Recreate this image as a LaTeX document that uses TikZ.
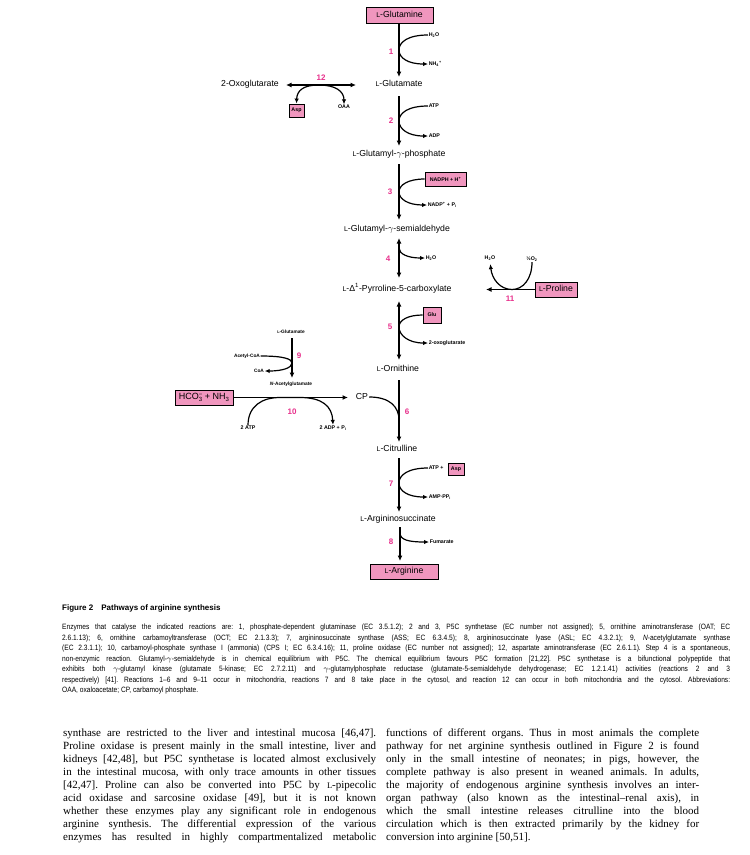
\documentclass[tikz,border=0pt]{standalone}
\usepackage{fontspec}
\usepackage{graphicx}
\setmainfont{Liberation Sans}
\newfontfamily\bodyfont{Liberation Serif}
\newfontfamily\capfont[FakeStretch=0.86]{Liberation Sans}
\usetikzlibrary{arrows.meta}
\definecolor{boxpink}{RGB}{240,150,190}
\definecolor{numpink}{RGB}{232,48,140}
\newcommand{\sL}{\scalebox{0.8}{L}}
\tikzset{
 met/.style={font=\fontsize{8.7}{10}\selectfont, inner sep=1pt, text height=6.3pt, text depth=1.8pt},
 sml/.style={font=\bfseries\fontsize{5.3}{6}\selectfont, inner sep=0.6pt},
 tiny/.style={font=\bfseries\fontsize{4.8}{5.5}\selectfont, inner sep=0.6pt},
 num/.style={font=\bfseries\fontsize{8}{9}\selectfont, text=numpink, inner sep=0pt},
 pbox/.style={draw=black, line width=0.9pt, fill=boxpink},
 arr/.style={line width=1.3pt, -{Latex[length=5.5pt,width=5pt]}},
 darr/.style={line width=1.3pt, {Latex[length=5.5pt,width=5pt]}-{Latex[length=5.5pt,width=5pt]}},
 carr/.style={line width=1.2pt, -{Latex[length=5pt,width=4.5pt]}},
}
\begin{document}
\begin{tikzpicture}[x=1pt,y=-1pt]
\useasboundingbox[fill=white] (0,0) rectangle (750,855);
% ---------- main column ----------
\node[pbox, met, minimum width=67pt, minimum height=16pt] (gln) at (399.5,15) {\sL-Glutamine};
\node[met] (glu) at (399,84) {\sL-Glutamate};
\node[met] (gp) at (399,154) {\sL-Glutamyl-$\gamma$-phosphate};
\node[met] (gsa) at (397,229) {\sL-Glutamyl-$\gamma$-semialdehyde};
\node[met] (p5c) at (397,289) {\sL-Δ\textsuperscript{1}-Pyrroline-5-carboxylate};
\node[met] (orn) at (398,369) {\sL-Ornithine};
\node[met] (cit) at (397,449) {\sL-Citrulline};
\node[met] (args) at (398,519) {\sL-Argininosuccinate};
\node[pbox, met, minimum width=68pt, minimum height=15pt] (arg) at (404,571.5) {\sL-Arginine};

% step 1
\draw[arr] (gln.south -| 399,0) -- (399,77);
\node[sml, anchor=west] (h2o1) at (428,35) {H\textsubscript{2}O};
\node[sml, anchor=west] (nh4) at (428,64) {NH\textsubscript{4}\textsuperscript{+}};
\draw[carr] (h2o1.west) .. controls (408,35) and (399,42) .. (399,50) .. controls (399,58) and (408,64) .. (nh4.west);
\node[num] (n1) at (391,52) {1};

% step 12
\node[met] (oxo) at (250,84) {2-Oxoglutarate};
\coordinate (a12) at (286,85);
\coordinate (b12) at (356,85);
\draw[darr] (a12) -- (b12);
\node[num] (n12) at (321,78) {12};
\node[pbox, sml, minimum width=15pt, minimum height=13pt, inner sep=0pt] (asp1) at (296.5,110.5) {Asp};
\node[sml] (oaa) at (344,107) {OAA};
\coordinate (j12) at (319,85);
\draw[carr] (j12) .. controls (304,85) and (297,90) .. (asp1.north);
\draw[carr] (j12) .. controls (335,85) and (344,91) .. (oaa.north);

% step 2
\draw[arr] (399,96) -- (399,146);
\node[sml, anchor=west] (atp2) at (428,106) {ATP};
\node[sml, anchor=west] (adp2) at (428,136) {ADP};
\draw[carr] (atp2.west) .. controls (408,106) and (399,113) .. (399,121) .. controls (399,129) and (408,136) .. (adp2.west);
\node[num] (n2) at (391,121) {2};

% step 3
\draw[arr] (399,164) -- (399,220);
\node[pbox, sml, minimum width=41pt, minimum height=14pt, inner sep=0pt] (nadph) at (445.5,179) {NADPH + H\textsuperscript{+}};
\node[sml, anchor=west] (nadpp) at (427,205) {NADP\textsuperscript{+} + P\textsubscript{i}};
\draw[carr] (nadph.west) .. controls (408,179) and (399,185) .. (399,192) .. controls (399,199) and (408,205) .. (nadpp.west);
\node[num] (n3) at (390,192) {3};

% step 4
\draw[darr] (399,238) -- (399,278);
\node[sml, anchor=west] (h2o4) at (425,258) {H\textsubscript{2}O};
\draw[carr] (399,248) .. controls (399,254) and (408,258) .. (h2o4.west);
\node[num] (n4) at (388,259) {4};

% step 11
\node[pbox, met, minimum width=42pt, minimum height=15pt] (pro) at (556,289.5) {\sL-Proline};
\coordinate (t11) at (486,289.5);
\draw[arr] (pro.west) -- (t11);
\node[sml] (h2o11) at (490,258) {H\textsubscript{2}O};
\node[sml] (o2) at (532,259) {½O\textsubscript{2}};
\draw[carr, shorten >=3pt] (o2.south) .. controls (532,279) and (523,289.5) .. (512,289.5) .. controls (500,289.5) and (492,279) .. (h2o11.south);
\node[num] (n11) at (510,299) {11};

% step 5
\draw[darr] (399,301) -- (399,360);
\node[pbox, sml, minimum width=18pt, minimum height=16pt, inner sep=0pt] (glu5) at (432,315) {Glu};
\node[sml, anchor=west] (oxo5) at (428,343) {2-oxoglutarate};
\draw[carr] (glu5.west) .. controls (408,315) and (399,320) .. (399,327) .. controls (399,335) and (408,343) .. (oxo5.west);
\node[num] (n5) at (390,327) {5};

% step 6
\draw[arr] (399,380) -- (399,442);
\node[met] (cp) at (362,397) {CP};
\draw[line width=1.2pt] (cp.east) .. controls (390,397) and (399,407) .. (399,420);
\node[num] (n6) at (407,412) {6};

% step 7
\draw[arr] (399,458) -- (399,512);
\node[sml, anchor=west] (atp7) at (428,468) {ATP +};
\node[pbox, sml, minimum width=16pt, minimum height=12pt, inner sep=0pt] (asp7) at (456,469) {Asp};
\node[sml, anchor=west] (amp) at (428,497) {AMP·PP\textsubscript{i}};
\draw[carr] (atp7.west) .. controls (408,468) and (399,475) .. (399,483) .. controls (399,491) and (408,497) .. (amp.west);
\node[num] (n7) at (391,484) {7};

% step 8
\draw[arr] (400,527) -- (400,561);
\node[sml, anchor=west] (fum) at (429,542) {Fumarate};
\draw[carr] (400,533) .. controls (400,540) and (409,542) .. (fum.west);
\node[num] (n8) at (391,542) {8};

% ---------- left branch ----------
\node[tiny] (glu9) at (291,332) {\sL-Glutamate};
\node[tiny] (nag) at (291,384) {\textit{N}-Acetylglutamate};
\draw[arr, line width=1.2pt] (292,338) -- (292,378);
\node[tiny] (acoa) at (247,356) {Acetyl-CoA};
\node[tiny] (coa) at (259,371) {CoA};
\draw[carr] (acoa.east) .. controls (284,356) and (292,359) .. (292,363) .. controls (292,368) and (282,371) .. (coa.east);
\node[num] (n9) at (299,356) {9};

\node[pbox, font=\fontsize{9}{10}\selectfont, minimum width=58pt, minimum height=15pt, inner sep=0pt] (hco) at (204,397.5) {HCO\rlap{\raisebox{-2pt}{\fontsize{6}{6}\selectfont 3}}\raisebox{3.6pt}{\fontsize{6}{6}\selectfont −} + NH\raisebox{-2pt}{\fontsize{6}{6}\selectfont 3}};
\draw[arr] (hco.east) -- (348,397.5);
\node[sml] (atp10) at (248,428) {2 ATP};
\node[sml] (adp10) at (333,428) {2 ADP + P\textsubscript{i}};
\draw[carr] (atp10.north) .. controls (248,406) and (262,397.5) .. (280,397.5) -- (300,397.5) .. controls (322,397.5) and (332,406) .. (adp10.north);
\node[num] (n10) at (292,412) {10};

% ---------- caption ----------
\node[anchor=base west, inner sep=0, font=\bfseries\fontsize{8}{9}\selectfont] (figh) at (62,610) {Figure 2\hspace{8pt}Pathways of arginine synthesis};
\node[anchor=base west, inner sep=0] (cap) at (62,629.5) {\parbox[t]{668pt}{\capfont\fontsize{7.7}{10.5}\selectfont\parindent=0pt\frenchspacing
Enzymes that catalyse the indicated reactions are: 1, phosphate-dependent glutaminase (EC 3.5.1.2); 2 and 3, P5C synthetase (EC number not assigned); 5, ornithine aminotransferase (OAT; EC\linebreak
2.6.1.13); 6, ornithine carbamoyltransferase (OCT; EC 2.1.3.3); 7, argininosuccinate synthase (ASS; EC 6.3.4.5); 8, argininosuccinate lyase (ASL; EC 4.3.2.1); 9, \textit{N}-acetylglutamate synthase\linebreak
{(EC} 2.3.1.1); 10, carbamoyl-phosphate synthase I (ammonia) (CPS I; EC 6.3.4.16); 11, proline oxidase (EC number not assigned); 12, aspartate aminotransferase (EC 2.6.1.1). Step 4 is a spontaneous,\linebreak
non-enzymic reaction. Glutamyl-$\gamma$-semialdehyde is in chemical equilibrium with P5C. The chemical equilibrium favours P5C formation [21,22]. P5C synthetase is a bifunctional polypeptide that\linebreak
exhibits both $\gamma$-glutamyl kinase (glutamate 5-kinase; EC 2.7.2.11) and $\gamma$-glutamylphosphate reductase (glutamate-5-semialdehyde dehydrogenase; EC 1.2.1.41) activities (reactions 2 and 3\linebreak
respectively) [41]. Reactions 1–6 and 9–11 occur in mitochondria, reactions 7 and 8 take place in the cytosol, and reaction 12 can occur in both mitochondria and the cytosol. Abbreviations:\linebreak
OAA, oxaloacetate; CP, carbamoyl phosphate.}};

% ---------- body text ----------
\node[anchor=base west, inner sep=0] (bodyl) at (63,736) {\parbox[t]{313pt}{\bodyfont\fontsize{11}{13.1}\selectfont\parindent=0pt\parfillskip=0pt\frenchspacing
synthase are restricted to the liver and intestinal mucosa [46,47].\linebreak
Proline oxidase is present mainly in the small intestine, liver and\linebreak
kidneys [42,48], but P5C synthetase is located almost exclusively\linebreak
in the intestinal mucosa, with only trace amounts in other tissues\linebreak
{[}42,47]. Proline can also be converted into P5C by {\fontsize{8.5}{8.5}\selectfont L}-pipecolic\linebreak
acid oxidase and sarcosine oxidase [49], but it is not known\linebreak
whether these enzymes play any significant role in endogenous\linebreak
arginine synthesis. The differential expression of the various\linebreak
enzymes has resulted in highly compartmentalized metabolic}};
\node[anchor=base west, inner sep=0] (bodyr) at (386,736) {\parbox[t]{313pt}{\bodyfont\fontsize{11}{13.1}\selectfont\parindent=0pt\frenchspacing
functions of different organs. Thus in most animals the complete\linebreak
pathway for net arginine synthesis outlined in Figure 2 is found\linebreak
only in the small intestine of neonates; in pigs, however, the\linebreak
complete pathway is also present in weaned animals. In adults,\linebreak
the majority of endogenous arginine synthesis involves an inter-\linebreak
organ pathway (also known as the intestinal–renal axis), in\linebreak
which the small intestine releases citrulline into the blood\linebreak
circulation which is then extracted primarily by the kidney for\linebreak
conversion into arginine [50,51].}};
\end{tikzpicture}
\end{document}
